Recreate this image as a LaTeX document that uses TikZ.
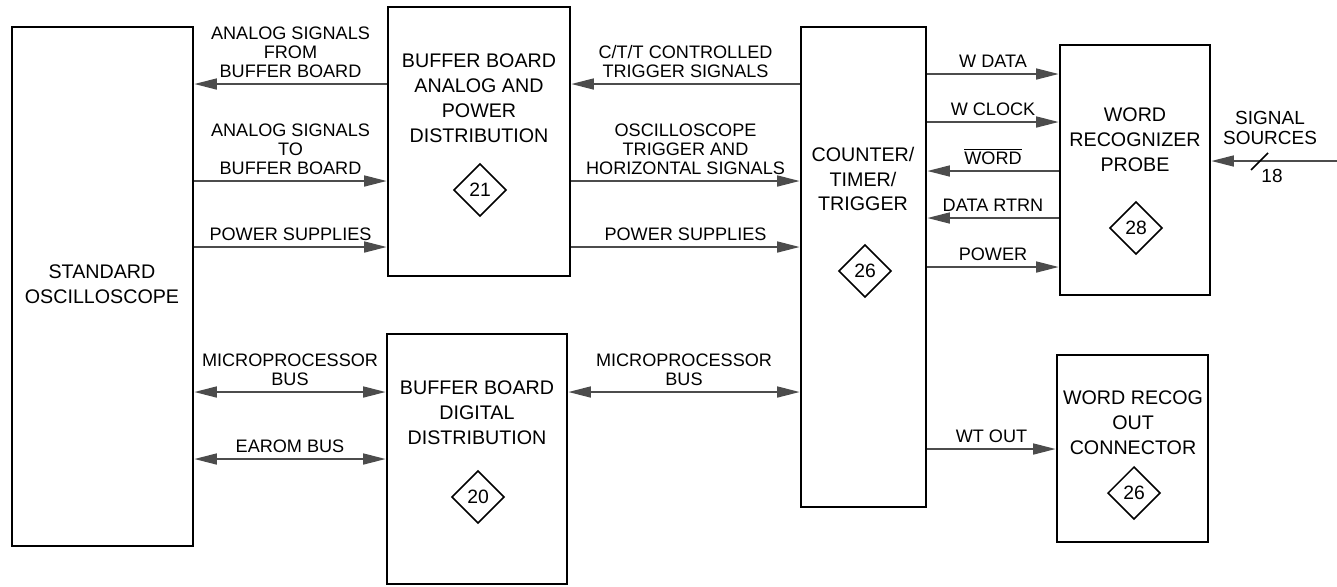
\documentclass[tikz,border=0pt]{standalone}
\usepackage{fontspec}
\setmainfont{Liberation Sans}
\usetikzlibrary{arrows.meta,shapes.geometric}
\tikzset{
  blk/.style={draw, line width=1.6pt, inner sep=0pt},
  blktext/.style={align=center, font=\fontsize{11.2}{14.2}\selectfont},
  sheet/.style={draw, diamond, aspect=1, line width=0.9pt, inner sep=0pt, minimum size=1.05cm, font=\fontsize{11}{12}\selectfont},
  sig/.style={draw=black!70, line width=0.9pt, -{Triangle[length=4.5mm,width=2.2mm]}},
  bus/.style={draw=black!70, line width=0.9pt, {Triangle[length=4.5mm,width=2.2mm]}-{Triangle[length=4.5mm,width=2.2mm]}},
  lbl/.style={above, align=center, inner sep=3pt, text=black, font=\fontsize{10.3}{10.8}\selectfont},
}
\begin{document}
\begin{tikzpicture}[x=0.02cm, y=-0.02cm]
\useasboundingbox (0,0) rectangle (1337,586);
\node[blk, minimum width=3.62cm, minimum height=10.38cm] (osc) at (102.5,286.5) {};
\node[blk, minimum width=3.64cm, minimum height=5.38cm] (bufa) at (479,141.5) {};
\node[blk, minimum width=3.6cm, minimum height=5cm] (bufd) at (477,459) {};
\node[blk, minimum width=2.5cm, minimum height=9.6cm] (ctt) at (863.5,267) {};
\node[blk, minimum width=3cm, minimum height=5cm] (wrp) at (1135,170) {};
\node[blk, minimum width=3.02cm, minimum height=3.74cm] (wro) at (1132.5,448.5) {};
\node[blktext] (osct) at (102,284) {STANDARD\\OSCILLOSCOPE};
\node[blktext] (bufat) at (479,98) {BUFFER BOARD\\ANALOG AND\\POWER\\DISTRIBUTION};
\node[blktext] (bufdt) at (477,413) {BUFFER BOARD\\DIGITAL\\DISTRIBUTION};
\node[blktext] (cttt) at (863,179) {COUNTER/\\TIMER/\\TRIGGER};
\node[blktext] (wrpt) at (1135,140) {WORD\\RECOGNIZER\\PROBE};
\node[blktext] (wrot) at (1133,423) {WORD RECOG\\OUT\\CONNECTOR};
\node[sheet] (n21) at (480,190) {21};
\node[sheet] (n20) at (478,497) {20};
\node[sheet] (n26a) at (865,271) {26};
\node[sheet] (n28) at (1136,228) {28};
\node[sheet] (n26b) at (1134,493) {26};
\draw[sig] (bufa.west |- 0,84) -- (osc.east |- 0,84) node[lbl, midway] {ANALOG SIGNALS\\FROM\\BUFFER BOARD};
\draw[sig] (osc.east |- 0,181) -- (bufa.west |- 0,181) node[lbl, midway] {ANALOG SIGNALS\\TO\\BUFFER BOARD};
\draw[sig] (osc.east |- 0,247) -- (bufa.west |- 0,247) node[lbl, midway] {POWER SUPPLIES};
\draw[bus] (osc.east |- 0,392) -- (bufd.west |- 0,392) node[lbl, midway] {MICROPROCESSOR\\BUS};
\draw[bus] (osc.east |- 0,459) -- (bufd.west |- 0,459) node[lbl, midway] {EAROM BUS};
\draw[sig] (ctt.west |- 0,84) -- (bufa.east |- 0,84) node[lbl, midway] {C/T/T CONTROLLED\\TRIGGER SIGNALS};
\draw[sig] (bufa.east |- 0,181) -- (ctt.west |- 0,181) node[lbl, midway] {OSCILLOSCOPE\\TRIGGER AND\\HORIZONTAL SIGNALS};
\draw[sig] (bufa.east |- 0,247) -- (ctt.west |- 0,247) node[lbl, midway] {POWER SUPPLIES};
\draw[bus] (bufd.east |- 0,392) -- (ctt.west |- 0,392) node[lbl, midway] {MICROPROCESSOR\\BUS};
\draw[sig] (ctt.east |- 0,74) -- (wrp.west |- 0,74) node[lbl, midway] {W DATA};
\draw[sig] (ctt.east |- 0,122) -- (wrp.west |- 0,122) node[lbl, midway] {W CLOCK};
\draw[sig] (wrp.west |- 0,171) -- (ctt.east |- 0,171) node[lbl, midway] {\(\overline{\mbox{WORD}}\)};
\draw[sig] (wrp.west |- 0,218) -- (ctt.east |- 0,218) node[lbl, midway] {DATA RTRN};
\draw[sig] (ctt.east |- 0,267) -- (wrp.west |- 0,267) node[lbl, midway] {POWER};
\draw[sig] (ctt.east |- 0,449) -- (wro.west |- 0,449) node[lbl, midway] {WT OUT};
\coordinate (src) at (1337,161);
\draw[sig] (src) -- (wrp.east |- src);
\draw[line width=0.9pt] (1251,170) -- (1268,153);
\node[lbl, anchor=center, font=\fontsize{10.8}{11.5}\selectfont] (srct) at (1270,128) {SIGNAL\\SOURCES};
\node[lbl, anchor=center, font=\fontsize{10.8}{11.5}\selectfont] (nsrc) at (1272,176) {18};
\end{tikzpicture}
\end{document}
